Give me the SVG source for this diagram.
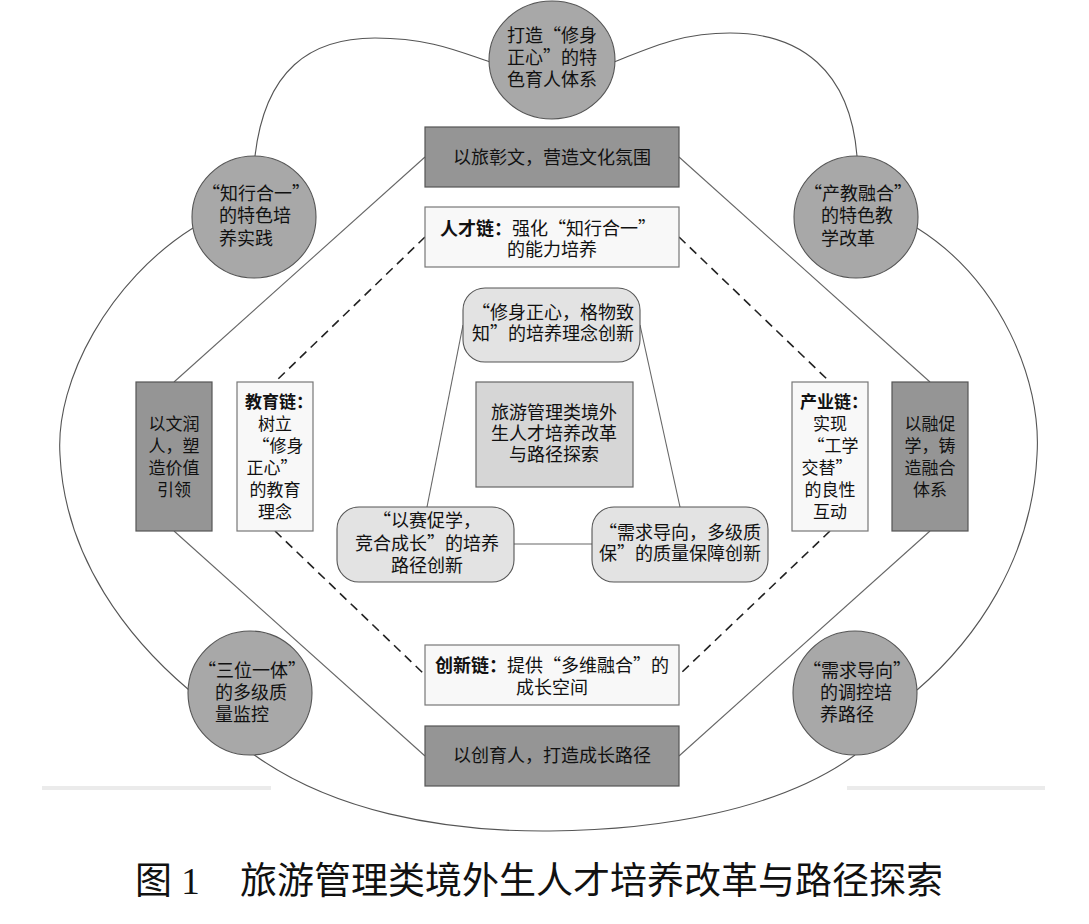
<svg xmlns="http://www.w3.org/2000/svg" width="1089" height="924" viewBox="0 0 1089 924">
<style>
text{font-family:"Noto Sans CJK SC","Noto Sans",sans-serif;font-size:18px;fill:#111;text-anchor:middle}
.s{font-size:17px}
.b{font-weight:bold}
.st{text-anchor:start}
.circ{fill:#a8a8a8;stroke:#555;stroke-width:1.1}
.dark{fill:#959595;stroke:#555;stroke-width:1.2}
.light{fill:#f8f8f8;stroke:#777;stroke-width:1.2}
.round{fill:#e3e3e3;stroke:#555;stroke-width:1.1}
.core{fill:#d6d6d6;stroke:#666;stroke-width:1.2}
.thin{fill:none;stroke:#666;stroke-width:1.1}
.dash{fill:none;stroke:#222;stroke-width:1.6;stroke-dasharray:9 6}
.curve{fill:none;stroke:#555;stroke-width:1.1}
</style>
<rect width="1089" height="924" fill="#fff"/>
<g id="scan-marks">
<line x1="42" y1="788" x2="271" y2="788" stroke="#ebebeb" stroke-width="4"/>
<line x1="847" y1="788" x2="1045" y2="788" stroke="#ebebeb" stroke-width="4"/>
</g>
<g id="connectors">
<path class="curve" d="M255 156 C265 70 310 38 375 38 C430 38 460 52 490 62"/>
<path class="curve" d="M614 62 C650 48 680 33 730 33 C800 33 850 70 857 156"/>
<path class="curve" d="M193 228 C110 280 55 380 60 455 C65 560 130 640 189 690"/>
<path class="curve" d="M917 228 C1000 280 1042 380 1037 455 C1032 560 975 640 917 690"/>
<path class="curve" d="M253 754 C330 810 440 832 550 831 C660 830 780 810 855 755"/>
<path class="thin" d="M425 157 L174 382"/>
<path class="thin" d="M679 157 L930 382"/>
<path class="thin" d="M174 531 L425 756"/>
<path class="thin" d="M930 531 L679 756"/>
<path class="dash" d="M425 237 L275 382"/>
<path class="dash" d="M679 237 L830 382"/>
<path class="dash" d="M275 531 L425 675"/>
<path class="dash" d="M830 531 L679 675"/>
<path class="thin" d="M463 325 L427 507"/>
<path class="thin" d="M640 325 L680 507"/>
<path class="thin" d="M514 544 L592 544"/>
</g>
<g id="n-top-circle">
<ellipse class="circ" cx="552" cy="60" rx="63" ry="59"/>
<text x="552" y="42">打造“修身</text>
<text x="552" y="64">正心”的特</text>
<text x="552" y="86">色育人体系</text>
</g>
<g id="n-lt-circle">
<ellipse class="circ" cx="254" cy="217" rx="62" ry="61"/>
<text x="256" y="200">“知行合一”</text>
<text class="st" x="219" y="222">的特色培</text>
<text class="st" x="219" y="245">养实践</text>
</g>
<g id="n-rt-circle">
<ellipse class="circ" cx="856" cy="217" rx="62" ry="61"/>
<text x="858" y="200">“产教融合”</text>
<text class="st" x="821" y="222">的特色教</text>
<text class="st" x="821" y="245">学改革</text>
</g>
<g id="n-lb-circle">
<ellipse class="circ" cx="250" cy="693" rx="62" ry="62"/>
<text x="252" y="677">“三位一体”</text>
<text class="st" x="215" y="699">的多级质</text>
<text class="st" x="215" y="721">量监控</text>
</g>
<g id="n-rb-circle">
<ellipse class="circ" cx="855" cy="693" rx="62" ry="62"/>
<text x="857" y="677">“需求导向”</text>
<text class="st" x="820" y="699">的调控培</text>
<text class="st" x="820" y="721">养路径</text>
</g>
<g id="n-culture">
<rect class="dark" x="425" y="127" width="254" height="60"/>
<text x="552" y="164">以旅彰文，营造文化氛围</text>
</g>
<g id="n-talent">
<rect class="light" x="425" y="207" width="254" height="60"/>
<text x="548" y="235"><tspan class="b">人才链：</tspan>强化“知行合一”</text>
<text x="552" y="256">的能力培养</text>
</g>
<g id="n-innov">
<rect class="light" x="425" y="645" width="254" height="60"/>
<text x="552" y="672"><tspan class="b">创新链：</tspan>提供“多维融合”的</text>
<text x="552" y="694">成长空间</text>
</g>
<g id="n-grow">
<rect class="dark" x="425" y="726" width="254" height="60"/>
<text x="552" y="762">以创育人，打造成长路径</text>
</g>
<g id="n-left-dark">
<rect class="dark" x="136" y="382" width="76" height="149"/>
<text class="s" x="174" y="430">以文润</text>
<text class="s" x="174" y="452">人，塑</text>
<text class="s" x="174" y="474">造价值</text>
<text class="s" x="174" y="496">引领</text>
</g>
<g id="n-edu">
<rect class="light" x="237" y="382" width="76" height="149"/>
<text class="s b" x="279" y="408">教育链：</text>
<text class="s" x="275" y="430">树立</text>
<text class="s" x="278" y="452">“修身</text>
<text class="s" x="272" y="474">正心”</text>
<text class="s" x="275" y="496">的教育</text>
<text class="s" x="275" y="518">理念</text>
</g>
<g id="n-ind">
<rect class="light" x="792" y="382" width="76" height="149"/>
<text class="s b" x="834" y="408">产业链：</text>
<text class="s" x="830" y="430">实现</text>
<text class="s" x="833" y="452">“工学</text>
<text class="s" x="827" y="474">交替”</text>
<text class="s" x="830" y="496">的良性</text>
<text class="s" x="830" y="518">互动</text>
</g>
<g id="n-right-dark">
<rect class="dark" x="892" y="382" width="76" height="149"/>
<text class="s" x="930" y="430">以融促</text>
<text class="s" x="930" y="452">学，铸</text>
<text class="s" x="930" y="474">造融合</text>
<text class="s" x="930" y="496">体系</text>
</g>
<g id="n-core">
<rect class="core" x="476" y="382" width="157" height="105"/>
<text x="554" y="419">旅游管理类境外</text>
<text x="554" y="440">生人才培养改革</text>
<text x="554" y="461">与路径探索</text>
</g>
<g id="n-concept">
<rect class="round" x="463" y="288" width="177" height="74" rx="22"/>
<text x="553" y="319">“修身正心，格物致</text>
<text x="553" y="340">知”的培养理念创新</text>
</g>
<g id="n-contest">
<rect class="round" x="337" y="507" width="177" height="75" rx="22"/>
<text x="427" y="527">“以赛促学，</text>
<text x="427" y="550">竞合成长”的培养</text>
<text x="427" y="572">路径创新</text>
</g>
<g id="n-quality">
<rect class="round" x="592" y="507" width="176" height="75" rx="22"/>
<text x="680" y="539">“需求导向，多级质</text>
<text x="680" y="560">保”的质量保障创新</text>
</g>
<g id="caption">
<text class="st" x="135" y="894" style="font-size:37px">图<tspan font-family="Liberation Serif"> 1</tspan></text>
<text class="st" x="240" y="894" style="font-size:37px">旅游管理类境外生人才培养改革与路径探索</text>
</g>
</svg>
